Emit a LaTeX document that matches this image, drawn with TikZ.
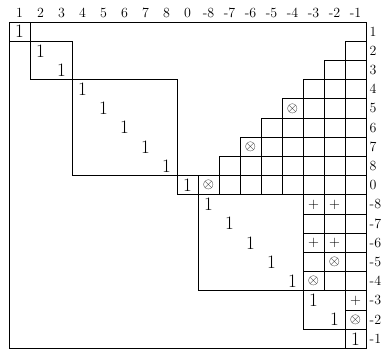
\documentclass[tikz,border=0pt]{standalone}
\usepackage{amsmath,amssymb}
\usepackage{tikz}
\usetikzlibrary{positioning}
\tikzset{
  frame/.style={draw=black,line width=0.8pt},
  one/.style={inner sep=0pt,font=\fontsize{19}{21}\selectfont},
  sym/.style={inner sep=0pt,font=\fontsize{15}{17}\selectfont},
  lbl/.style={inner sep=0pt,font=\fontsize{14}{16}\selectfont},
}

\begin{document}
\begin{tikzpicture}[x=21pt,y=-19.2pt]
\useasboundingbox (-9pt,22pt) rectangle (379pt,-329pt);
% outer frame and diagonal blocks
\draw[frame] (0,0) rectangle (17,17);
\draw[frame] (0,0) rectangle (1,1);
\draw[frame] (1,1) rectangle (3,3);
\draw[frame] (3,3) rectangle (8,8);
\draw[frame] (8,8) rectangle (9,9);
\draw[frame] (9,9) rectangle (14,14);
\draw[frame] (14,14) rectangle (16,16);
\draw[frame] (16,16) rectangle (17,17);
% staircase of cells
\foreach \r in {1,...,8}{
  \pgfmathtruncatemacro\cs{17-\r}
  \foreach \c in {\cs,...,16} \draw[frame] (\c,\r) rectangle ++(1,1);
}
\foreach \r in {9,...,13}
  \foreach \c in {14,15,16} \draw[frame] (\c,\r) rectangle ++(1,1);
\foreach \r in {14,15,16} \draw[frame] (16,\r) rectangle ++(1,1);
% ones on the diagonal
\foreach \i in {0,...,16} \node[one] (d\i) at (\i+0.5,\i+0.5) {1};
% crossed circles
\foreach \r/\c in {4/13,6/11,8/9,12/15,13/14,15/16}
  \node[sym] (x\r-\c) at (\c+0.5,\r+0.5) {$\otimes$};
% plus signs
\foreach \r/\c in {9/14,9/15,11/14,11/15,14/16}
  \node[sym] (p\r-\c) at (\c+0.5,\r+0.5) {$+$};
% index labels
\foreach \t [count=\i from 0] in {1,2,3,4,5,6,7,8,0,-8,-7,-6,-5,-4,-3,-2,-1}{
  \node[lbl,yshift=9pt] (top\i) at (\i+0.5,0) {\t};
  \node[lbl,anchor=west,xshift=3.5pt] (rgt\i) at (17,\i+0.5) {\t};
}
\end{tikzpicture}
\end{document}
